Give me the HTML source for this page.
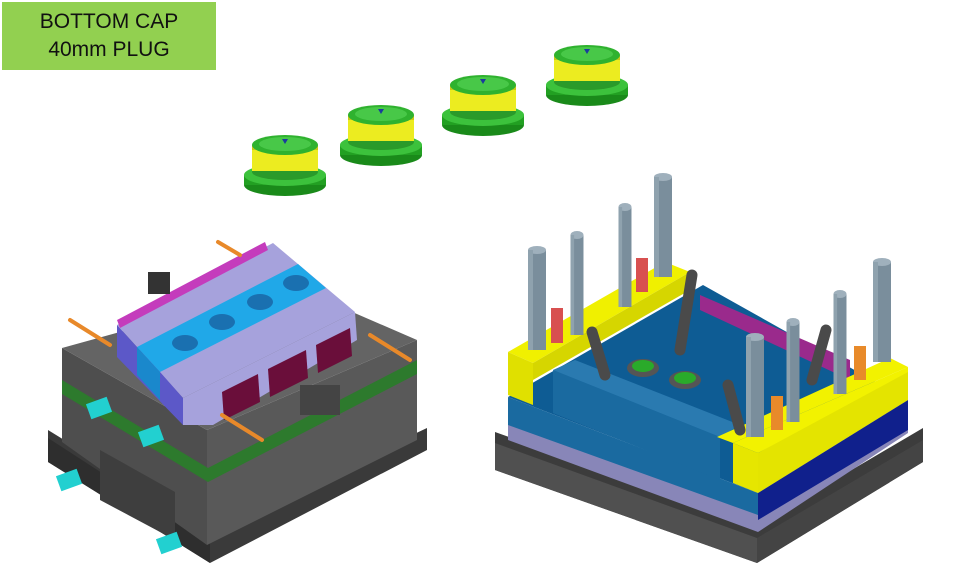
<!DOCTYPE html>
<html><head><meta charset="utf-8"><style>
body{margin:0;background:#fff;}
.lbl{position:absolute;left:2px;top:2px;width:214px;height:68px;background:#92d050;font-family:"Liberation Sans",sans-serif;font-size:21px;text-align:center;line-height:28px;padding-top:6px;box-sizing:border-box;color:#111;}
</style></head><body>
<div style="position:relative;width:960px;height:575px;overflow:hidden">
<svg width="960" height="575" style="position:absolute;left:0;top:0">
<defs>
<g id="cap">
<ellipse cx="0" cy="42" rx="41" ry="11" fill="#1a8a1a"/>
<rect x="-41" y="32" width="82" height="10" fill="#22a022"/>
<ellipse cx="0" cy="32" rx="41" ry="11" fill="#3cc23c"/>
<ellipse cx="0" cy="29" rx="33" ry="8" fill="#2a9a2a"/>
<rect x="-33" y="2" width="66" height="26" fill="#ecec20"/>
<rect x="-33" y="2" width="66" height="5" fill="#c8c818"/>
<ellipse cx="0" cy="2" rx="33" ry="10" fill="#2fb22f"/>
<ellipse cx="0" cy="1" rx="26" ry="7" fill="#48c848"/>
<path d="M-3 -4 L3 -4 L0 1Z" fill="#1a3c9c"/>
</g>
<g id="pinL"><rect x="-9" y="0" width="18" height="100" fill="#7a8e9c"/><ellipse cx="0" cy="0" rx="9" ry="4" fill="#9fb0bc"/><rect x="-9" y="0" width="5" height="100" fill="#8fa2ae"/></g>
</defs>
<use href="#cap" x="285" y="143"/>
<use href="#cap" x="381" y="113"/>
<use href="#cap" x="483" y="83"/>
<use href="#cap" x="587" y="53"/>

<!-- LEFT MOLD -->
<polygon points="48,430 210,530 427,428 427,450 210,563 48,462" fill="#3a3a3a"/>
<polygon points="48,438 210,543 210,563 48,462" fill="#2e2e2e"/>
<polygon points="62,348 207,430 207,545 62,442" fill="#4e4e4e"/>
<polygon points="207,430 417,340 417,440 207,545" fill="#595959"/>
<polygon points="62,380 208,468 208,482 62,394" fill="#2d7a2d"/>
<polygon points="208,468 417,360 417,374 208,482" fill="#2d7a2d"/>
<polygon points="62,348 207,430 417,340 290,285" fill="#646464"/>
<polygon points="100,450 175,492 175,540 100,500" fill="#3e3e3e"/>
<!-- cavity -->
<polygon points="117,325 273,243 355,312 183,398" fill="#a6a2dc"/>
<polygon points="137,347 298,264 326,288 160,372" fill="#20a8e8"/>
<polygon points="117,325 137,347 160,372 183,398 183,425 117,357" fill="#5c58c8"/>
<polygon points="137,347 160,372 160,400 137,375" fill="#1a88cc"/>
<polygon points="183,398 355,312 357,340 213,425 183,425" fill="#a6a2dc"/>
<polygon points="222,392 258,374 260,402 224,420" fill="#6a0e3a"/>
<polygon points="268,369 306,350 308,378 270,397" fill="#6a0e3a"/>
<polygon points="316,345 350,328 352,356 318,373" fill="#6a0e3a"/>
<polygon points="117,320 265,242 268,250 120,328" fill="#c43cbc"/>
<rect x="148" y="272" width="22" height="22" fill="#333"/>
<ellipse cx="185" cy="343" rx="13" ry="8" fill="#1a70b0"/>
<ellipse cx="222" cy="322" rx="13" ry="8" fill="#1a70b0"/>
<ellipse cx="260" cy="302" rx="13" ry="8" fill="#1a70b0"/>
<ellipse cx="296" cy="283" rx="13" ry="8" fill="#1a70b0"/>
<rect x="300" y="385" width="40" height="30" fill="#444"/>
<g stroke="#e8892a" stroke-width="4" stroke-linecap="round">
<line x1="70" y1="320" x2="110" y2="345"/><line x1="218" y1="242" x2="240" y2="255"/>
<line x1="370" y1="335" x2="410" y2="360"/><line x1="222" y1="415" x2="262" y2="440"/>
</g>
<g fill="#22d0d0"><rect x="88" y="400" width="22" height="16" transform="rotate(-20 99 408)"/>
<rect x="140" y="428" width="22" height="16" transform="rotate(-20 151 436)"/>
<rect x="58" y="472" width="22" height="16" transform="rotate(-20 69 480)"/>
<rect x="158" y="535" width="22" height="16" transform="rotate(-20 169 543)"/></g>

<!-- RIGHT MOLD -->
<polygon points="495,432 758,525 923,428 923,462 757,563 495,470" fill="#3c3c3c"/>
<polygon points="495,443 757,538 757,563 495,470" fill="#505050"/>
<polygon points="757,538 923,440 923,462 757,563" fill="#444"/>
<polygon points="508,423 758,510 908,423 908,433 758,532 508,440" fill="#8886b8"/>
<polygon points="508,397 703,285 908,400 758,493" fill="#0e5c94"/>
<polygon points="508,397 758,493 758,515 508,425" fill="#1a6aa0"/>
<polygon points="758,493 908,400 908,430 758,520" fill="#10208c"/>
<polygon points="700,295 850,360 850,380 700,310" fill="#9a2a8c"/>
<polygon points="508,352 533,363 690,272 665,262" fill="#f0f000"/>
<polygon points="508,352 533,363 533,405 508,395" fill="#e0e000"/>
<polygon points="533,363 690,272 690,290 533,380" fill="#d6d600"/>
<polygon points="553,370 720,437 720,480 553,413" fill="#1a6aa0"/>
<polygon points="553,370 575,360 740,425 720,437" fill="#2a7ab0"/>
<polygon points="717,437 733,443 908,367 890,358" fill="#f2f200"/>
<polygon points="733,443 758,453 758,493 733,483" fill="#e6e600"/>
<polygon points="758,453 908,367 908,400 758,493" fill="#e4e400"/>
<polygon points="733,443 908,367 908,372 758,453" fill="#f2f200"/>
<ellipse cx="643" cy="368" rx="16" ry="9" fill="#555"/><ellipse cx="643" cy="366" rx="11" ry="6" fill="#2aaa2a"/>
<ellipse cx="685" cy="380" rx="16" ry="9" fill="#555"/><ellipse cx="685" cy="378" rx="11" ry="6" fill="#2aaa2a"/>
<g stroke="#4a4a4a" stroke-width="11" stroke-linecap="round">
<line x1="680" y1="350" x2="692" y2="275"/><line x1="605" y1="375" x2="592" y2="332"/>
<line x1="740" y1="430" x2="728" y2="385"/><line x1="812" y1="380" x2="826" y2="330"/></g>
<use href="#pinL" x="537" y="250"/>
<g transform="translate(577,235) scale(0.72,1)"><use href="#pinL"/></g>
<g transform="translate(625,207) scale(0.72,1)"><use href="#pinL"/></g>
<use href="#pinL" x="663" y="177"/>
<use href="#pinL" x="755" y="337"/>
<g transform="translate(793,322) scale(0.72,1)"><use href="#pinL"/></g>
<g transform="translate(840,294) scale(0.72,1)"><use href="#pinL"/></g>
<use href="#pinL" x="882" y="262"/>
<rect x="551" y="308" width="12" height="35" fill="#d85050"/>
<rect x="636" y="258" width="12" height="34" fill="#d85050"/>
<rect x="854" y="346" width="12" height="34" fill="#e88a2a"/>
<rect x="771" y="396" width="12" height="34" fill="#e88a2a"/>
</svg>
<div class="lbl">BOTTOM CAP<br>40mm PLUG</div>
</div>
</body></html>
